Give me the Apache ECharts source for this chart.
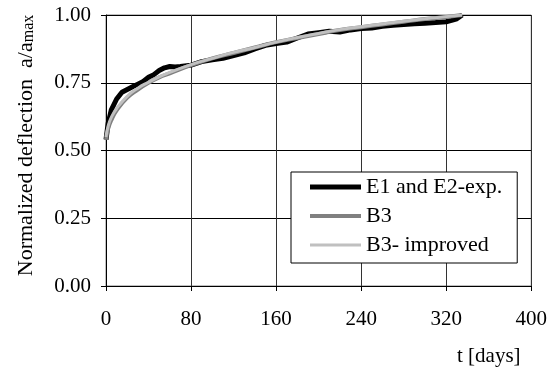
<!DOCTYPE html>
<html>
<head>
<meta charset="utf-8">
<script src="https://cdn.jsdelivr.net/npm/echarts@6/dist/echarts.min.js"></script>
<style>
  html, body { margin: 0; padding: 0; background: #fff; }
  #chart { width: 550px; height: 371px; }
</style>
</head>
<body>
<div id="chart"></div>
<script>
// measured curves (t in days, normalized deflection)
const expT = [0, 2, 5, 10, 15, 20, 25, 30, 35, 40, 45, 50, 55, 60, 65, 70, 80, 90, 100, 110, 120, 130, 140, 150, 160, 170, 180, 190, 200, 210, 220, 230, 240, 250, 260, 270, 280, 290, 300, 310, 320, 325, 330, 335];
const expY = [0.54, 0.60, 0.65, 0.69, 0.715, 0.725, 0.735, 0.745, 0.755, 0.77, 0.78, 0.795, 0.805, 0.81, 0.808, 0.81, 0.815, 0.828, 0.835, 0.84, 0.85, 0.86, 0.875, 0.888, 0.895, 0.90, 0.915, 0.93, 0.935, 0.94, 0.937, 0.945, 0.95, 0.952, 0.958, 0.962, 0.965, 0.968, 0.97, 0.972, 0.975, 0.98, 0.986, 1.0];
const modelT = [0, 2, 5, 10, 20, 30, 40, 50, 60, 80, 100, 120, 140, 160, 180, 200, 220, 240, 260, 280, 300, 320, 335];
const b3Y = [0.54, 0.58, 0.612, 0.648, 0.695, 0.725, 0.75, 0.77, 0.785, 0.815, 0.84, 0.86, 0.88, 0.9, 0.915, 0.93, 0.945, 0.955, 0.965, 0.975, 0.985, 0.993, 1.0];
const b3ImpY = [0.55, 0.59, 0.622, 0.655, 0.70, 0.73, 0.752, 0.772, 0.788, 0.817, 0.84, 0.862, 0.88, 0.9, 0.917, 0.932, 0.946, 0.957, 0.967, 0.977, 0.986, 0.994, 1.0];

const font = "'Liberation Serif', 'DejaVu Serif', serif";
const zip = (xs, ys) => xs.map((x, i) => [x, ys[i]]);

let myChart = echarts.init(document.getElementById('chart'));
let option = {
  animation: false,
  textStyle: { fontFamily: font },
  grid: {
    left: 106, right: 18, top: 15, bottom: 85,
    show: true, borderColor: '#808080', borderWidth: 1
  },
  legend: {
    orient: 'vertical',
    left: 291, top: 172,
    padding: [4, 15, 7, 19],
    itemGap: 7,
    itemWidth: 51,
    itemHeight: 14,
    borderColor: '#000',
    borderWidth: 1,
    backgroundColor: '#fff',
    symbolKeepAspect: true,
    textStyle: { fontFamily: font, fontSize: 22, color: '#000' },
    data: [
      { name: 'E1 and E2-exp.', icon: 'path://M0,0H51V5H0Z' },
      { name: 'B3', icon: 'path://M0,0H51V4H0Z' },
      { name: 'B3- improved', icon: 'path://M0,0H51V3H0Z' }
    ]
  },
  xAxis: {
    type: 'value',
    min: 0, max: 400, interval: 80,
    axisLine: { onZero: false, lineStyle: { color: '#000' } },
    axisTick: { show: true, length: 5, lineStyle: { color: '#000' } },
    axisLabel: { color: '#000', fontSize: 21, fontFamily: font, margin: 23 },
    splitLine: { show: true, lineStyle: { color: '#333', width: 1 } }
  },
  yAxis: {
    type: 'value',
    min: 0, max: 1, interval: 0.25,
    name: 'Normalized deflection  a/a{s|max}',
    nameLocation: 'middle',
    nameGap: 69,
    nameTextStyle: {
      color: '#000', fontSize: 22, fontFamily: font,
      padding: [0, 0, 0, 10],
      rich: { s: { fontSize: 16, fontFamily: font, color: '#000', verticalAlign: 'bottom' } }
    },
    axisLine: { show: true, lineStyle: { color: '#000' } },
    axisTick: { show: true, length: 5, lineStyle: { color: '#000' } },
    axisLabel: {
      color: '#000', fontSize: 21, fontFamily: font, margin: 15,
      formatter: v => v.toFixed(2)
    },
    splitLine: { show: true, lineStyle: { color: '#000', width: 1 } }
  },
  graphic: [{
    type: 'text', left: 457, top: 346,
    style: { text: 't [days]', fontSize: 21, fontFamily: font, fill: '#000' }
  }],
  series: [
    {
      name: 'E1 and E2-exp.', type: 'line', symbol: 'none',
      data: zip(expT, expY),
      lineStyle: { color: '#000', width: 5 }, itemStyle: { color: '#000' }
    },
    {
      name: 'B3', type: 'line', symbol: 'none', smooth: true,
      data: zip(modelT, b3Y),
      lineStyle: { color: '#808080', width: 4 }, itemStyle: { color: '#808080' }
    },
    {
      name: 'B3- improved', type: 'line', symbol: 'none', smooth: true,
      data: zip(modelT, b3ImpY),
      lineStyle: { color: '#c0c0c0', width: 3 }, itemStyle: { color: '#c0c0c0' }
    }
  ]
};
myChart.setOption(option);
</script>
</body>
</html>
